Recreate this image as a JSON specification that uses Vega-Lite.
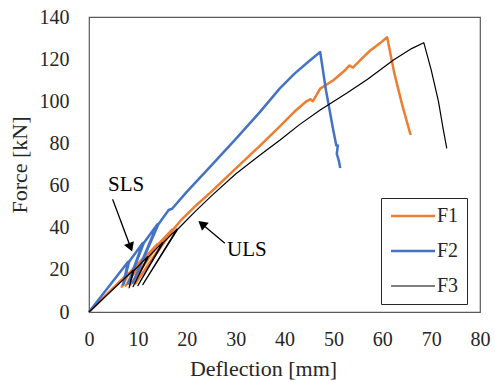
{
  "$schema": "https://vega.github.io/schema/vega-lite/v6.json",
  "width": 391,
  "height": 295,
  "autosize": {"type": "none"},
  "padding": {"left": 89, "top": 17, "right": 15, "bottom": 70},
  "config": {
    "font": "Liberation Serif",
    "view": {"stroke": "#595959", "strokeWidth": 1.2},
    "axis": {"grid": false, "domain": false, "ticks": false, "labelFlush": false, "labelOverlap": false, "labelFont": "Liberation Serif", "titleFont": "Liberation Serif", "labelFontSize": 20, "titleFontSize": 22, "labelColor": "#262626", "titleColor": "#262626", "titleFontWeight": "normal"}
  },
  "datasets": {
    "curves": [
      {"s": "F1", "o": 0, "x": 0, "y": 0},
      {"s": "F1", "o": 1, "x": 8, "y": 18.4},
      {"s": "F1", "o": 2, "x": 6.7, "y": 12},
      {"s": "F1", "o": 3, "x": 8.2, "y": 18.4},
      {"s": "F1", "o": 4, "x": 11, "y": 25.3},
      {"s": "F1", "o": 5, "x": 7.5, "y": 12.5},
      {"s": "F1", "o": 6, "x": 11.2, "y": 25.3},
      {"s": "F1", "o": 7, "x": 14, "y": 32.2},
      {"s": "F1", "o": 8, "x": 8.5, "y": 13},
      {"s": "F1", "o": 9, "x": 14.2, "y": 32.2},
      {"s": "F1", "o": 10, "x": 17, "y": 39.1},
      {"s": "F1", "o": 11, "x": 9.5, "y": 13.5},
      {"s": "F1", "o": 12, "x": 17.2, "y": 39.1},
      {"s": "F1", "o": 13, "x": 19, "y": 44},
      {"s": "F1", "o": 14, "x": 22, "y": 50.8},
      {"s": "F1", "o": 15, "x": 25, "y": 57},
      {"s": "F1", "o": 16, "x": 30, "y": 68},
      {"s": "F1", "o": 17, "x": 35, "y": 79},
      {"s": "F1", "o": 18, "x": 39, "y": 88},
      {"s": "F1", "o": 19, "x": 42, "y": 95},
      {"s": "F1", "o": 20, "x": 44.5, "y": 100},
      {"s": "F1", "o": 21, "x": 45.3, "y": 101},
      {"s": "F1", "o": 22, "x": 45.8, "y": 100},
      {"s": "F1", "o": 23, "x": 47.3, "y": 106},
      {"s": "F1", "o": 24, "x": 50, "y": 110},
      {"s": "F1", "o": 25, "x": 52.5, "y": 115},
      {"s": "F1", "o": 26, "x": 53.3, "y": 117},
      {"s": "F1", "o": 27, "x": 54, "y": 116},
      {"s": "F1", "o": 28, "x": 55.5, "y": 119.5},
      {"s": "F1", "o": 29, "x": 57.5, "y": 124},
      {"s": "F1", "o": 30, "x": 59.5, "y": 127.5},
      {"s": "F1", "o": 31, "x": 61, "y": 130.4},
      {"s": "F1", "o": 32, "x": 62.5, "y": 113},
      {"s": "F1", "o": 33, "x": 64, "y": 99},
      {"s": "F1", "o": 34, "x": 65.8, "y": 84},
      {"s": "F2", "o": 0, "x": 0, "y": 0},
      {"s": "F2", "o": 1, "x": 8, "y": 23.8},
      {"s": "F2", "o": 2, "x": 7, "y": 13},
      {"s": "F2", "o": 3, "x": 8.2, "y": 23.8},
      {"s": "F2", "o": 4, "x": 11, "y": 32.7},
      {"s": "F2", "o": 5, "x": 8, "y": 13.5},
      {"s": "F2", "o": 6, "x": 11.2, "y": 32.7},
      {"s": "F2", "o": 7, "x": 14, "y": 41.6},
      {"s": "F2", "o": 8, "x": 9, "y": 14},
      {"s": "F2", "o": 9, "x": 14.2, "y": 41.6},
      {"s": "F2", "o": 10, "x": 16.3, "y": 48.4},
      {"s": "F2", "o": 11, "x": 17, "y": 49},
      {"s": "F2", "o": 12, "x": 20, "y": 57},
      {"s": "F2", "o": 13, "x": 25, "y": 69.5},
      {"s": "F2", "o": 14, "x": 30, "y": 82},
      {"s": "F2", "o": 15, "x": 35, "y": 95},
      {"s": "F2", "o": 16, "x": 39, "y": 106},
      {"s": "F2", "o": 17, "x": 42, "y": 113},
      {"s": "F2", "o": 18, "x": 45, "y": 119},
      {"s": "F2", "o": 19, "x": 47.3, "y": 123.4},
      {"s": "F2", "o": 20, "x": 48.5, "y": 105},
      {"s": "F2", "o": 21, "x": 50, "y": 86},
      {"s": "F2", "o": 22, "x": 50.6, "y": 79},
      {"s": "F2", "o": 23, "x": 50.9, "y": 79},
      {"s": "F2", "o": 24, "x": 50.7, "y": 75},
      {"s": "F2", "o": 25, "x": 51.1, "y": 72},
      {"s": "F2", "o": 26, "x": 51.4, "y": 68.3},
      {"s": "F3", "o": 0, "x": 0, "y": 0},
      {"s": "F3", "o": 1, "x": 9, "y": 19.7},
      {"s": "F3", "o": 2, "x": 8.2, "y": 11.5},
      {"s": "F3", "o": 3, "x": 9.2, "y": 19.7},
      {"s": "F3", "o": 4, "x": 12, "y": 26.3},
      {"s": "F3", "o": 5, "x": 9, "y": 12},
      {"s": "F3", "o": 6, "x": 12.2, "y": 26.3},
      {"s": "F3", "o": 7, "x": 15, "y": 32.9},
      {"s": "F3", "o": 8, "x": 10, "y": 12.5},
      {"s": "F3", "o": 9, "x": 15.2, "y": 32.9},
      {"s": "F3", "o": 10, "x": 18, "y": 39.4},
      {"s": "F3", "o": 11, "x": 11, "y": 13},
      {"s": "F3", "o": 12, "x": 18.2, "y": 39.4},
      {"s": "F3", "o": 13, "x": 21.7, "y": 47.6},
      {"s": "F3", "o": 14, "x": 25, "y": 55},
      {"s": "F3", "o": 15, "x": 30, "y": 65.5},
      {"s": "F3", "o": 16, "x": 35, "y": 74.5},
      {"s": "F3", "o": 17, "x": 39.1, "y": 81.6},
      {"s": "F3", "o": 18, "x": 43, "y": 88.8},
      {"s": "F3", "o": 19, "x": 47.3, "y": 95.9},
      {"s": "F3", "o": 20, "x": 52.7, "y": 103.8},
      {"s": "F3", "o": 21, "x": 57, "y": 110.5},
      {"s": "F3", "o": 22, "x": 62.3, "y": 119.6},
      {"s": "F3", "o": 23, "x": 66, "y": 125},
      {"s": "F3", "o": 24, "x": 68.5, "y": 127.8},
      {"s": "F3", "o": 25, "x": 70, "y": 115},
      {"s": "F3", "o": 26, "x": 71.5, "y": 100},
      {"s": "F3", "o": 27, "x": 72.5, "y": 86.4},
      {"s": "F3", "o": 28, "x": 73.2, "y": 77.7}
    ],
    "labels": [
      {"t": "SLS", "x": 7.6, "y": 60.3},
      {"t": "ULS", "x": 32.3, "y": 29.4}
    ],
    "arrows": [
      {"x": 4.83, "y": 53.5, "x2": 8.5, "y2": 30.7},
      {"x": 27.8, "y": 32.6, "x2": 23.1, "y2": 41.8}
    ],
    "heads": [
      {"x": 8.5, "y": 30.7, "a": 159.5},
      {"x": 23.1, "y": 41.8, "a": 310}
    ]
  },
  "layer": [
    {
      "data": {"name": "curves"},
      "mark": {"type": "line", "strokeJoin": "round", "interpolate": "linear"},
      "encoding": {
        "x": {"field": "x", "type": "quantitative", "scale": {"domain": [0, 80]}, "axis": {"values": [0,10,20,30,40,50,60,70,80], "title": "Deflection [mm]", "titleX": 174, "labelPadding": 17, "titlePadding": 9}},
        "y": {"field": "y", "type": "quantitative", "scale": {"domain": [0, 140]}, "axis": {"values": [0,20,40,60,80,100,120,140], "title": "Force [kN]", "labelPadding": 20, "titlePadding": 8}},
        "order": {"field": "o", "type": "quantitative"},
        "color": {"field": "s", "type": "nominal", "scale": {"domain": ["F1","F2","F3"], "range": ["#ED7D31","#4472C4","#000000"]},
          "legend": {"title": null, "orient": "none", "legendX": 292, "legendY": 181, "symbolType": "M-0.444,0H2", "symbolSize": 1296, "symbolStrokeWidth": 2.5, "labelFontSize": 20, "labelFont": "Liberation Serif", "labelColor": "#262626", "strokeColor": "#262626", "padding": 8, "rowPadding": 15, "labelOffset": 28, "labelExpr": "datum.label + ' '",
            "encode": {"symbols": {"update": {"strokeWidth": {"signal": "datum.value === 'F3' ? 1.2 : 2.5"}}}}}},
        "strokeWidth": {"condition": {"test": "datum.s === 'F3'", "value": 1.2}, "value": 2.5}
      }
    },
    {
      "data": {"name": "arrows"},
      "mark": {"type": "rule", "color": "#000000", "strokeWidth": 1.3},
      "encoding": {
        "x": {"field": "x", "type": "quantitative"},
        "y": {"field": "y", "type": "quantitative"},
        "x2": {"field": "x2"},
        "y2": {"field": "y2"}
      }
    },
    {
      "data": {"name": "heads"},
      "mark": {"type": "point", "shape": "triangle-up", "filled": true, "color": "#000000", "size": 110, "opacity": 1},
      "encoding": {
        "x": {"field": "x", "type": "quantitative"},
        "y": {"field": "y", "type": "quantitative"},
        "angle": {"field": "a", "type": "quantitative", "scale": null}
      }
    },
    {
      "data": {"name": "labels"},
      "mark": {"type": "text", "font": "Liberation Serif", "fontSize": 21, "color": "#000000"},
      "encoding": {
        "x": {"field": "x", "type": "quantitative"},
        "y": {"field": "y", "type": "quantitative"},
        "text": {"field": "t"}
      }
    }
  ]
}
